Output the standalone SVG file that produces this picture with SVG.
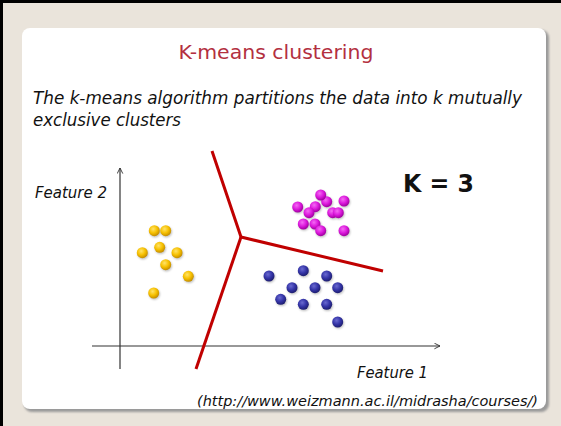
<svg xmlns="http://www.w3.org/2000/svg" width="561" height="426" viewBox="0 0 561 426">
  <style>
    .title { font-family: "DejaVu Sans", Verdana, sans-serif; font-size: 20px; fill: #B3303F; }
    .body { font-family: "DejaVu Sans", Verdana, sans-serif; font-style: italic; fill: #111; }
    .big { font-family: "DejaVu Sans", Verdana, sans-serif; font-weight: bold; font-size: 24px; fill: #111; }
    .axis { stroke: #333; stroke-width: 1.2; fill: none; }
    .border { stroke: #C00000; stroke-width: 3; fill: none; stroke-linejoin: round; }
    .yel { fill: url(#gYel); }
    .mag { fill: url(#gMag); }
    .blu { fill: url(#gBlu); }
  </style>
  <defs>
    <filter id="cardShadow" x="-5%" y="-5%" width="110%" height="110%">
      <feGaussianBlur stdDeviation="1.2"/>
    </filter>
    <filter id="dotShadow" x="-50%" y="-50%" width="200%" height="200%">
      <feGaussianBlur stdDeviation="0.8"/>
    </filter>
    <radialGradient id="gYel" cx="0.4" cy="0.35" r="0.65">
      <stop offset="0" stop-color="#FFE36A"/>
      <stop offset="0.55" stop-color="#F7C100"/>
      <stop offset="1" stop-color="#C58E00"/>
    </radialGradient>
    <radialGradient id="gMag" cx="0.4" cy="0.35" r="0.65">
      <stop offset="0" stop-color="#F46AF4"/>
      <stop offset="0.55" stop-color="#DD1ADD"/>
      <stop offset="1" stop-color="#A000A0"/>
    </radialGradient>
    <radialGradient id="gBlu" cx="0.4" cy="0.35" r="0.65">
      <stop offset="0" stop-color="#6A6AD0"/>
      <stop offset="0.55" stop-color="#3535A8"/>
      <stop offset="1" stop-color="#1E1E70"/>
    </radialGradient>
    <marker id="arrowOpen" viewBox="0 0 10 10" refX="9" refY="5" markerWidth="7" markerHeight="7" orient="auto" markerUnits="userSpaceOnUse">
      <path d="M1,1 L9,5 L1,9" fill="none" stroke="#333" stroke-width="1.3"/>
    </marker>
  </defs>

  <!-- page background and frame -->
  <rect x="0" y="0" width="561" height="426" fill="#EAE4DB"/>
  <rect x="0" y="0" width="561" height="3" fill="#000"/>
  <rect x="0" y="0" width="3" height="426" fill="#000"/>

  <!-- slide card -->
  <rect x="24" y="30" width="525" height="382" rx="8" fill="#9A9A9A" filter="url(#cardShadow)"/>
  <rect x="22" y="28" width="524" height="381" rx="8" fill="#FFFFFF"/>

  <!-- heading -->
  <text class="title" x="276" y="59" text-anchor="middle" textLength="195" lengthAdjust="spacingAndGlyphs">K-means clustering</text>
  <text class="body" x="33" y="104" font-size="18" textLength="489" lengthAdjust="spacingAndGlyphs">The k-means algorithm partitions the data into k mutually</text>
  <text class="body" x="33" y="126" font-size="18" textLength="148" lengthAdjust="spacingAndGlyphs">exclusive clusters</text>

  <!-- axes -->
  <g id="axes">
    <line class="axis" x1="120" y1="369" x2="120" y2="168" marker-end="url(#arrowOpen)"/>
    <line class="axis" x1="92" y1="346" x2="440" y2="346" marker-end="url(#arrowOpen)"/>
    <text class="body" x="35" y="198" font-size="16" textLength="72" lengthAdjust="spacingAndGlyphs">Feature 2</text>
    <text class="body" x="357" y="378" font-size="16" textLength="71" lengthAdjust="spacingAndGlyphs">Feature 1</text>
  </g>

  <!-- cluster boundaries -->
  <g id="boundaries">
    <polyline class="border" points="212,151 241,237 383,271"/>
    <line class="border" x1="241" y1="237" x2="196" y2="369"/>
  </g>

  <!-- cluster 1 (yellow) -->
  <g id="cluster-yellow">
    <g fill="#000" opacity="0.25" filter="url(#dotShadow)" transform="translate(0.8,1.2)">
      <circle cx="154.3" cy="230.7" r="5.5"/><circle cx="165.7" cy="230.7" r="5.5"/>
      <circle cx="159.7" cy="247.3" r="5.5"/><circle cx="142.3" cy="252.7" r="5.5"/>
      <circle cx="177" cy="252.7" r="5.5"/><circle cx="165.7" cy="264.7" r="5.5"/>
      <circle cx="188.3" cy="276.3" r="5.5"/><circle cx="153.7" cy="293" r="5.5"/>
    </g>
    <circle class="yel" cx="154.3" cy="230.7" r="5.5"/><circle class="yel" cx="165.7" cy="230.7" r="5.5"/>
    <circle class="yel" cx="159.7" cy="247.3" r="5.5"/><circle class="yel" cx="142.3" cy="252.7" r="5.5"/>
    <circle class="yel" cx="177" cy="252.7" r="5.5"/><circle class="yel" cx="165.7" cy="264.7" r="5.5"/>
    <circle class="yel" cx="188.3" cy="276.3" r="5.5"/><circle class="yel" cx="153.7" cy="293" r="5.5"/>
  </g>

  <!-- cluster 2 (magenta) -->
  <g id="cluster-magenta">
    <g fill="#000" opacity="0.25" filter="url(#dotShadow)" transform="translate(0.8,1.2)">
      <circle cx="297.7" cy="207" r="5.5"/><circle cx="320.7" cy="195" r="5.5"/>
      <circle cx="326.7" cy="201.7" r="5.5"/><circle cx="344" cy="201" r="5.5"/>
      <circle cx="315.3" cy="206.7" r="5.5"/><circle cx="309" cy="212.7" r="5.5"/>
      <circle cx="332.7" cy="212.7" r="5.5"/><circle cx="338.3" cy="212.7" r="5.5"/>
      <circle cx="303.3" cy="224" r="5.5"/><circle cx="315" cy="224" r="5.5"/>
      <circle cx="320.7" cy="230.7" r="5.5"/><circle cx="344" cy="230.7" r="5.5"/>
    </g>
    <circle class="mag" cx="297.7" cy="207" r="5.5"/>
    <circle class="mag" cx="326.7" cy="201.7" r="5.5"/>
    <circle class="mag" cx="320.7" cy="195" r="5.5"/>
    <circle class="mag" cx="344" cy="201" r="5.5"/>
    <circle class="mag" cx="315.3" cy="206.7" r="5.5"/>
    <circle class="mag" cx="309" cy="212.7" r="5.5"/>
    <circle class="mag" cx="332.7" cy="212.7" r="5.5"/>
    <circle class="mag" cx="338.3" cy="212.7" r="5.5"/>
    <circle class="mag" cx="303.3" cy="224" r="5.5"/>
    <circle class="mag" cx="315" cy="224" r="5.5"/>
    <circle class="mag" cx="320.7" cy="230.7" r="5.5"/>
    <circle class="mag" cx="344" cy="230.7" r="5.5"/>
  </g>

  <!-- cluster 3 (blue) -->
  <g id="cluster-blue">
    <g fill="#000" opacity="0.25" filter="url(#dotShadow)" transform="translate(0.8,1.2)">
      <circle cx="269" cy="276" r="5.5"/><circle cx="303.3" cy="270.7" r="5.5"/>
      <circle cx="326.7" cy="276" r="5.5"/><circle cx="292" cy="287.7" r="5.5"/>
      <circle cx="315" cy="287.7" r="5.5"/><circle cx="337.7" cy="287.7" r="5.5"/>
      <circle cx="280.7" cy="299.3" r="5.5"/><circle cx="303.3" cy="304.3" r="5.5"/>
      <circle cx="326.7" cy="304.3" r="5.5"/><circle cx="337.7" cy="322" r="5.5"/>
    </g>
    <circle class="blu" cx="269" cy="276" r="5.5"/><circle class="blu" cx="303.3" cy="270.7" r="5.5"/>
    <circle class="blu" cx="326.7" cy="276" r="5.5"/><circle class="blu" cx="292" cy="287.7" r="5.5"/>
    <circle class="blu" cx="315" cy="287.7" r="5.5"/><circle class="blu" cx="337.7" cy="287.7" r="5.5"/>
    <circle class="blu" cx="280.7" cy="299.3" r="5.5"/><circle class="blu" cx="303.3" cy="304.3" r="5.5"/>
    <circle class="blu" cx="326.7" cy="304.3" r="5.5"/><circle class="blu" cx="337.7" cy="322" r="5.5"/>
  </g>

  <!-- number of clusters -->
  <text class="big" x="403" y="192" textLength="71" lengthAdjust="spacingAndGlyphs">K = 3</text>

  <!-- source -->
  <text class="body" x="197" y="406" font-size="14" textLength="341" lengthAdjust="spacingAndGlyphs">(http://www.weizmann.ac.il/midrasha/courses/)</text>
</svg>
